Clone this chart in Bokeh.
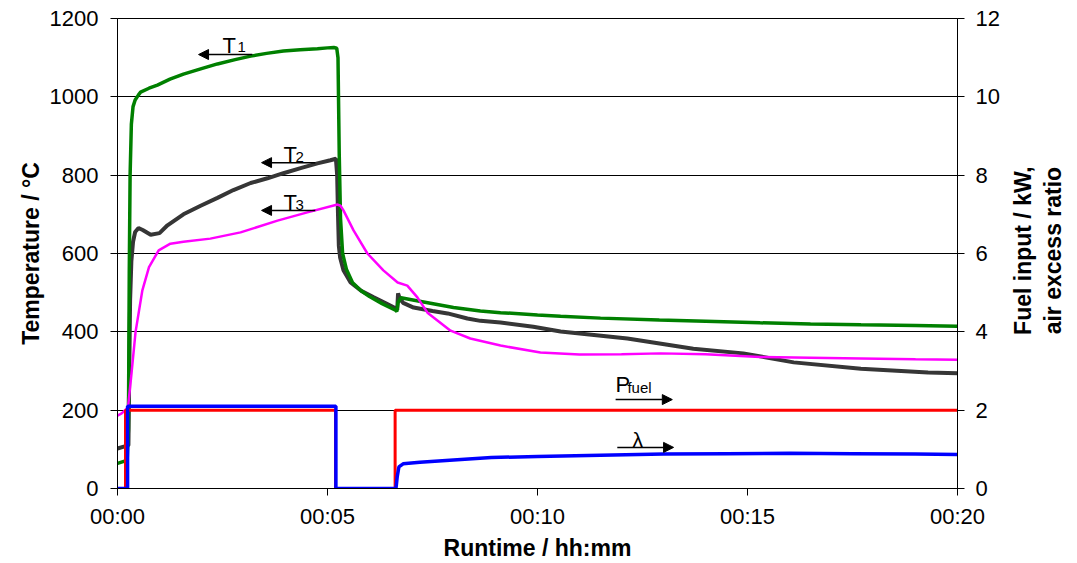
import math
from bokeh.plotting import figure
from bokeh.layouts import row
from bokeh.models import (Range1d, LinearAxis, FixedTicker, Label, Arrow, NormalHead)
from bokeh.embed import file_html
from bokeh.resources import INLINE

# ---------------- data (time in minutes) ----------------
tick_pos = [0, 5, 10, 15, 20]
tick_labels = ["00:00", "00:05", "00:10", "00:15", "00:20"]
temp_ticks = [0, 200, 400, 600, 800, 1000, 1200]
right_ticks = [0, 2, 4, 6, 8, 10, 12]

t1_time = [0, 0.17, 0.23, 0.26, 0.28, 0.30, 0.33, 0.37, 0.42, 0.5, 0.55, 0.75, 0.95, 1.25,
           1.57, 2.0, 2.38, 2.8, 3.17, 3.55, 3.95, 4.35, 4.76, 5.0, 5.15, 5.22, 5.25, 5.28,
           5.31, 5.36, 5.45, 5.6, 5.8, 6.0, 6.3, 6.62, 6.65, 6.68, 6.75, 7.0, 7.45, 8.0,
           8.64, 9.12, 10.0, 10.55, 11.5, 12.9, 14.0, 15.3, 16.5, 17.7, 19.0, 20]
t1_vals = [64, 70, 72, 150, 550, 800, 930, 975, 992, 1005, 1012, 1022, 1030, 1045,
           1058, 1072, 1084, 1095, 1104, 1111, 1117, 1120, 1123, 1125, 1126, 1124, 1100, 850,
           690, 600, 560, 525, 505, 490, 472, 455, 452, 475, 487, 482, 473, 462,
           453, 449, 443, 440, 435, 430, 427, 423, 420, 418, 416, 414]

t2_time = [0, 0.15, 0.26, 0.28, 0.30, 0.33, 0.37, 0.42, 0.5, 0.6, 0.79, 1.0, 1.19, 1.57,
           1.98, 2.38, 2.76, 3.17, 3.57, 3.95, 4.36, 4.76, 5.07, 5.2, 5.23, 5.25, 5.27, 5.3,
           5.38, 5.55, 5.8, 6.1, 6.4, 6.62, 6.66, 6.68, 6.72, 6.8, 7.05, 7.5, 7.86, 8.33,
           8.64, 9.12, 9.9, 10.55, 12.14, 13.71, 14.9, 16.1, 17.7, 19.3, 20]
t2_vals = [102, 107, 110, 300, 480, 580, 630, 655, 665, 660, 648, 652, 672, 700,
           722, 742, 762, 780, 792, 805, 818, 830, 838, 842, 800, 700, 620, 590,
           557, 526, 505, 488, 472, 460, 456, 498, 485, 474, 462, 453, 447, 434,
           428, 424, 413, 401, 383, 357, 345, 322, 306, 296, 294]

t3_time = [0, 0.1, 0.25, 0.33, 0.43, 0.59, 0.75, 0.98, 1.26, 1.57, 2.21, 2.93, 3.81, 4.52,
           5.24, 5.31, 5.38, 5.62, 5.95, 6.33, 6.67, 6.9, 7.14, 7.38, 7.93, 8.4, 9.12,
           10.07, 11.0, 12.0, 12.93, 14.0, 15.3, 16.5, 17.7, 19.0, 20]
t3_vals = [186, 192, 207, 290, 400, 505, 565, 608, 625, 630, 638, 654, 684, 705,
           725, 722, 710, 659, 600, 557, 526, 518, 488, 449, 403, 383, 365,
           347, 342, 343, 345, 343, 336, 334, 332, 330, 329]

pfuel_time = [0, 0.19, 0.19, 5.19, 5.19, 6.61, 6.61, 20]
pfuel_vals = [0, 0, 2.0, 2.0, 0, 0, 2.0, 2.0]

lam_time = [0, 0.24, 0.24, 5.2, 5.2, 6.63, 6.66, 6.7, 6.8, 7.2, 8.0, 8.9, 10.0, 11.5,
            13.0, 14.5, 16.0, 17.5, 19.0, 20]
lam_vals = [0, 0, 2.1, 2.1, 0, 0, 0.3, 0.55, 0.63, 0.67, 0.73, 0.79, 0.82, 0.85,
            0.88, 0.89, 0.9, 0.89, 0.88, 0.87]

right_title_lines = ["Fuel input / kW,", "air excess ratio"]

FONT = "Liberation Sans"

p = figure(width=1005, height=563, output_backend="svg", toolbar_location=None,
           x_range=Range1d(0, 20), y_range=Range1d(0, 1200),
           min_border_left=117, min_border_right=48, min_border_top=18, min_border_bottom=75)
p.extra_y_ranges = {"r": Range1d(0, 12)}
p.background_fill_color = "white"
p.border_fill_color = "white"
p.outline_line_color = "black"
p.outline_line_width = 1

p.xgrid.grid_line_color = None
p.ygrid.grid_line_color = "black"
p.ygrid.grid_line_width = 1
p.ygrid.ticker = FixedTicker(ticks=temp_ticks)

# x axis
xa = p.xaxis[0]
xa.ticker = FixedTicker(ticks=tick_pos)
xa.major_label_overrides = {k: v for k, v in zip(tick_pos, tick_labels)}
xa.axis_label = "Runtime / hh:mm"
xa.axis_label_standoff = 3
# left axis
ya = p.yaxis[0]
ya.ticker = FixedTicker(ticks=temp_ticks)
ya.axis_label = "Temperature / °C"
ya.axis_label_standoff = 3
# right axis
ra = LinearAxis(y_range_name="r", ticker=FixedTicker(ticks=right_ticks))
p.add_layout(ra, "right")

for ax in [xa, ya, ra]:
    ax.major_label_text_font = FONT
    ax.major_label_text_font_size = "22px"
    ax.major_label_text_color = "black"
    ax.axis_label_text_font = FONT
    ax.axis_label_text_font_size = "23px"
    ax.axis_label_text_font_style = "bold"
    ax.axis_label_text_color = "black"
    ax.axis_line_color = "black"
    ax.axis_line_width = 1
    ax.major_tick_line_color = "black"
    ax.major_tick_out = 7
    ax.major_tick_in = 0
    ax.minor_tick_line_color = None
ya.major_label_standoff = 12
ra.major_label_standoff = 11
xa.major_label_standoff = 8

# series
p.line(t2_time, t2_vals, line_color="#363636", line_width=4)
p.line(t1_time, t1_vals, line_color="#008000", line_width=3.5)
p.line(t3_time, t3_vals, line_color="#FF00FF", line_width=2.5)
p.line(pfuel_time, pfuel_vals, y_range_name="r", line_color="#FF0000", line_width=3)
p.line(lam_time, lam_vals, y_range_name="r", line_color="#0000FF", line_width=3.5)

# annotations
def lab(fig, x, y, text, size, **kw):
    fig.add_layout(Label(x=x, y=y, text=text, text_font=FONT, text_font_size=size,
                         text_color="black", **kw))

def arr(x0, x1, y):
    p.add_layout(Arrow(end=NormalHead(size=10, fill_color="black", line_color="black", line_width=1),
                       x_start=x0, y_start=y, x_end=x1, y_end=y, line_width=1.5,
                       line_color="black"))

lab(p, 2.5, 1131, "T", "22px", text_baseline="alphabetic")
lab(p, 2.86, 1126, "1", "15px", text_baseline="alphabetic")
arr(3.21, 1.93, 1108)

lab(p, 3.95, 853, "T", "22px", text_baseline="alphabetic")
lab(p, 4.24, 847, "2", "15px", text_baseline="alphabetic")
arr(4.71, 3.43, 832)

lab(p, 3.95, 731, "T", "22px", text_baseline="alphabetic")
lab(p, 4.24, 725, "3", "15px", text_baseline="alphabetic")
arr(4.71, 3.43, 710)

lab(p, 11.86, 266, "P", "22px", text_baseline="alphabetic")
lab(p, 12.14, 259, "fuel", "15px", text_baseline="alphabetic")
arr(11.86, 13.21, 227)

lab(p, 12.26, 124, "λ", "21px", text_baseline="alphabetic")
arr(11.9, 13.24, 105)

# narrow companion figure holding the right-hand axis title (two rotated lines)
p2 = figure(width=72, height=563, output_backend="svg", toolbar_location=None,
            x_range=Range1d(0, 72), y_range=Range1d(0, 563), min_border=0,
            x_axis_location=None, y_axis_location=None)
p2.outline_line_color = None
p2.background_fill_color = "white"
p2.border_fill_color = "white"
for g in list(p2.xgrid) + list(p2.ygrid):
    g.grid_line_color = None
lab(p2, 17, 285, right_title_lines[0], "23px", text_align="center", text_baseline="middle",
    text_font_style="bold", angle=math.pi / 2)
lab(p2, 47, 285, right_title_lines[1], "23px", text_align="center", text_baseline="middle",
    text_font_style="bold", angle=math.pi / 2)

layout = row(p, p2)
open("out.html", "w").write(file_html(layout, INLINE))
